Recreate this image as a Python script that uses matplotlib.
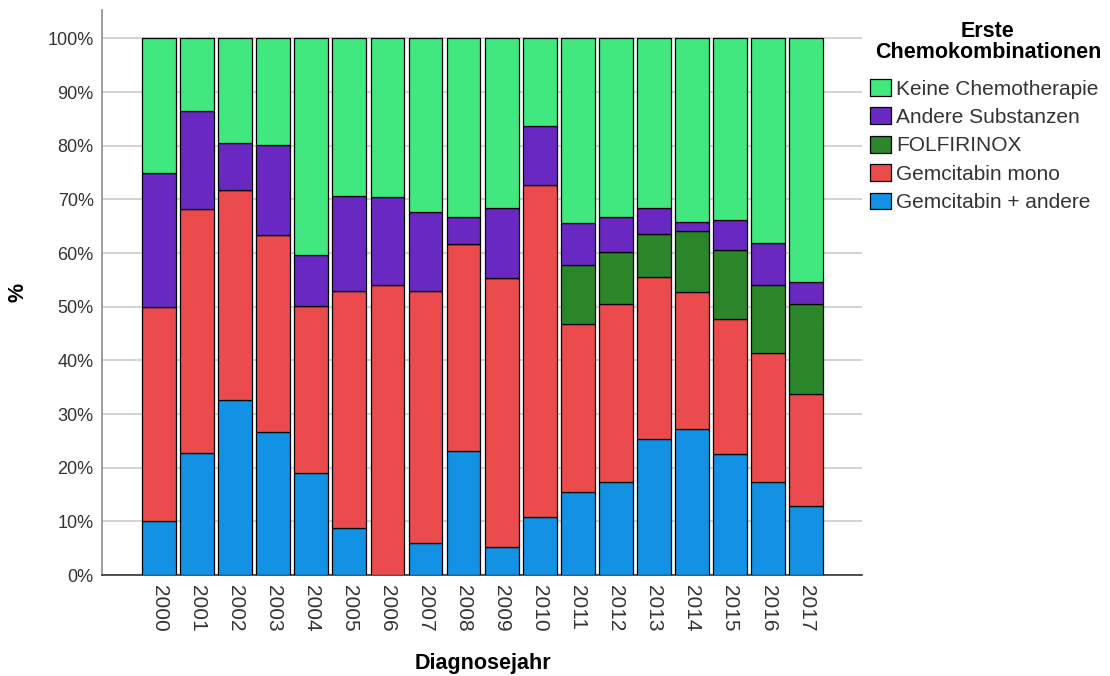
import matplotlib
matplotlib.use('Agg')
import matplotlib.pyplot as plt
import numpy as np
from matplotlib.ticker import FuncFormatter

# Data (percent per year)
years = [str(y) for y in range(2000, 2018)]
gem_andere = [10.0, 22.7, 32.6, 26.7, 19.1, 8.8, 0.0, 6.0, 23.1, 5.3,
              10.9, 15.5, 17.4, 25.4, 27.2, 22.6, 17.4, 12.9]
gem_mono = [40.0, 45.5, 39.1, 36.7, 31.0, 44.2, 54.1, 47.0, 38.5, 50.0,
            61.8, 31.3, 33.2, 30.2, 25.6, 25.2, 23.9, 20.8]
folfirinox = [0, 0, 0, 0, 0, 0, 0, 0, 0, 0,
              0, 11.0, 9.6, 7.9, 11.4, 12.7, 12.7, 16.9]
andere = [25.0, 18.2, 8.8, 16.7, 9.5, 17.7, 16.3, 14.6, 5.1, 13.1,
          11.0, 7.8, 6.5, 4.9, 1.6, 5.7, 7.9, 4.0]
keine = [25.0, 13.6, 19.5, 19.9, 40.4, 29.3, 29.6, 32.4, 33.3, 31.6,
         16.3, 34.4, 33.3, 31.6, 34.2, 33.8, 38.1, 45.4]

series = [
    ('Gemcitabin + andere', gem_andere, '#1391e5'),
    ('Gemcitabin mono', gem_mono, '#eb4b4c'),
    ('FOLFIRINOX', folfirinox, '#2a8628'),
    ('Andere Substanzen', andere, '#6a28c2'),
    ('Keine Chemotherapie', keine, '#41e87f'),
]

plt.rcParams['font.family'] = ['Liberation Sans', 'DejaVu Sans']

fig = plt.figure(figsize=(11.1, 6.76), dpi=100)
ax = fig.add_axes([0.0919, 0.1494, 0.6847, 0.8358])

x = np.arange(len(years))
bottom = np.zeros(len(years))
handles = []
for label, vals, color in series:
    vals = np.array(vals)
    h = ax.bar(x, vals, width=0.89, bottom=bottom, color=color,
               edgecolor='black', linewidth=0.9, label=label, zorder=3)
    handles.append(h)
    bottom = bottom + vals

ax.set_xlim(-1.5, 18.47)
ax.set_ylim(0, 105.3)
ax.set_yticks(np.arange(0, 101, 10))
ax.yaxis.set_major_formatter(FuncFormatter(lambda v, p: f'{v:.0f}%'))
ax.grid(axis='y', color='#cccccc', linewidth=1.2, zorder=0)
ax.set_axisbelow(True)

ax.set_xticks(x)
ax.set_xticklabels(years, rotation=270, fontsize=15, color='#333333')
ax.tick_params(axis='x', length=0, pad=7)
ax.tick_params(axis='y', length=0, pad=6, labelsize=13, labelcolor='#333333')

for side in ('top', 'right'):
    ax.spines[side].set_visible(False)
ax.spines['left'].set_color('#8c8c8c')
ax.spines['left'].set_linewidth(1.2)
ax.spines['bottom'].set_color('#333333')
ax.spines['bottom'].set_linewidth(1.2)

ax.set_xlabel('Diagnosejahr', fontsize=15.5, fontweight='bold', va='center')
ax.xaxis.set_label_coords(0.501, -0.156)
ax.set_ylabel('%', fontsize=15.5, fontweight='bold', va='center')
ax.yaxis.set_label_coords(-0.11, 0.5)

# legend title drawn as its own text (tight line spacing as in the reference)
fig.text(0.890, 1 - 42 / 676, 'Erste\nChemokombinationen', ha='center', va='center',
         fontsize=15.5, fontweight='bold', multialignment='center',
         linespacing=0.95)

leg = fig.legend(handles[::-1], [s[0] for s in series][::-1],
                 loc='upper left', bbox_to_anchor=(0.7838, 1 - 79 / 676),
                 frameon=False, fontsize=15,
                 handlelength=1.0, handleheight=0.87, handletextpad=0.25,
                 labelspacing=0.42, borderaxespad=0, borderpad=0)
for t in leg.get_texts():
    t.set_color('#333333')

fig.savefig('out.png', dpi=100)
